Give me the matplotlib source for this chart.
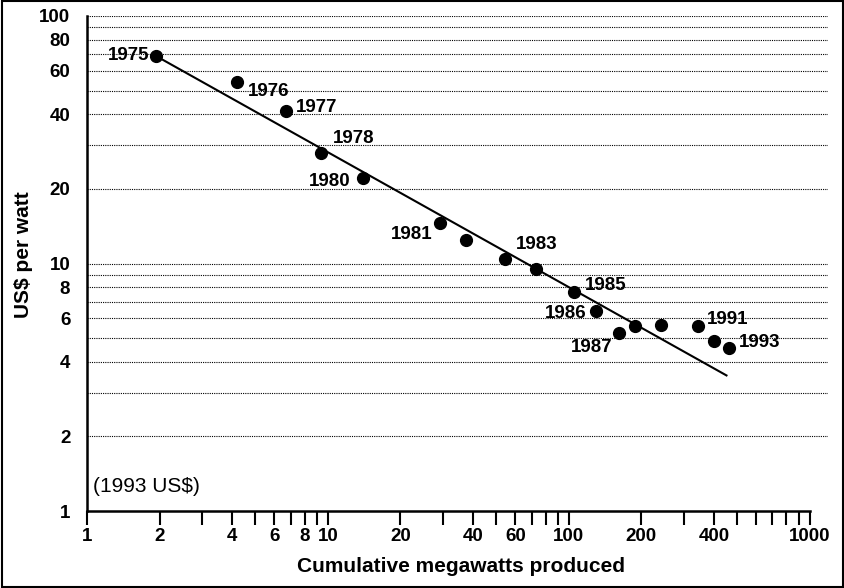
import numpy as np
import matplotlib
matplotlib.use('Agg')
import matplotlib.pyplot as plt
from matplotlib.patches import Rectangle

plt.rcParams['font.family'] = ['Liberation Sans', 'DejaVu Sans']

# cumulative MW vs module price (1993 US$ per watt)
mw = [1.93, 4.19, 6.71, 9.38, 13.97, 29.2, 37.3, 54.4, 73.2, 104.9,
      129.4, 160.8, 188.4, 241.5, 343, 401, 462]
price = [69.2, 54.0, 41.2, 27.9, 22.1, 14.6, 12.5, 10.4, 9.48, 7.67,
         6.43, 5.22, 5.59, 5.64, 5.59, 4.88, 4.56]
labels = ['1975', '1976', '1977', '1978', '1980', '1981', '', '1983', '',
          '1985', '1986', '1987', '', '', '1991', '', '1993']
# label offsets (points) and alignment
offsets = [(-4.3, 0), (8, -7), (7, 2.5), (8.6, 10.4), (-8.6, -2.5), (-5.8, -8.6),
           None, (8, 10.4), None, (8, 4.7), (-6.5, -1.8), (-4.3, -10.4),
           None, None, (6.5, 4.7), None, (7.2, 3.6)]

# experience curve fit, end points
fit_x = [1.93, 451]
fit_y = [69, 3.53]

x_ticks = [1, 2, 3, 4, 5, 6, 7, 8, 9, 10, 20, 30, 40, 50, 60, 70, 80, 90,
           100, 200, 300, 400, 500, 600, 700, 800, 900, 1000]
x_labeled = [1, 2, 4, 6, 8, 10, 20, 40, 60, 100, 200, 400, 1000]
y_grid = [2, 3, 4, 5, 6, 7, 8, 9, 10, 20, 30, 40, 50, 60, 70, 80, 90, 100]
y_labeled = [1, 2, 4, 6, 8, 10, 20, 40, 60, 80, 100]

fig = plt.figure(figsize=(8.45, 5.88), dpi=100)
ax = fig.add_axes([87/845, 77/588, 741/845, 495/588])

ax.set_xscale('log')
ax.set_yscale('log')
ax.set_xlim(1, 1190)
ax.set_ylim(1, 100)

for g in y_grid:
    ax.axhline(g, color='black', lw=0.8, ls=(0, (1, 1)), zorder=1)

ax.plot(fit_x, fit_y, color='black', lw=1.5, zorder=2)
ax.plot(mw, price, 'o', color='black', ms=8.5, zorder=3)

for x, y, lab, off in zip(mw, price, labels, offsets):
    if not lab:
        continue
    ha = 'left' if off[0] > 0 else 'right'
    ax.annotate(lab, (x, y), xytext=off, textcoords='offset points',
                ha=ha, va='center', fontsize=13.5, fontweight='bold')

ax.set_xticks(x_ticks)
ax.set_xticklabels([str(t) if t in x_labeled else '' for t in x_ticks])
ax.xaxis.set_minor_locator(matplotlib.ticker.NullLocator())
ax.tick_params(axis='x', direction='out', length=10, width=1.5, pad=2,
               labelsize=13.5)
ax.set_yticks(y_labeled)
ax.set_yticklabels([str(t) for t in y_labeled])
ax.yaxis.set_minor_locator(matplotlib.ticker.NullLocator())
ax.tick_params(axis='y', length=0, pad=12, labelsize=13.5)
for lab in ax.get_xticklabels() + ax.get_yticklabels():
    lab.set_fontweight('bold')

ax.spines['top'].set_visible(False)
ax.spines['right'].set_visible(False)
ax.spines['left'].set_linewidth(1.8)
ax.spines['bottom'].set_linewidth(1.8)
ax.spines['bottom'].set_bounds(1, 1000)

ax.set_xlabel('Cumulative megawatts produced', fontsize=15, fontweight='bold')
ax.xaxis.set_label_coords(0.505, -0.093)
ax.set_ylabel('US$ per watt', fontsize=15, fontweight='bold')
ax.yaxis.set_label_coords(-0.073, 0.517)

ax.text(0.008, 0.03, '(1993 US$)', transform=ax.transAxes, fontsize=15,
        ha='left', va='bottom')

fig.patches.append(Rectangle((0.002, 0.002), 0.996, 0.996, transform=fig.transFigure,
                             fill=False, edgecolor='black', lw=1.5))

fig.savefig('out.png', dpi=100)
